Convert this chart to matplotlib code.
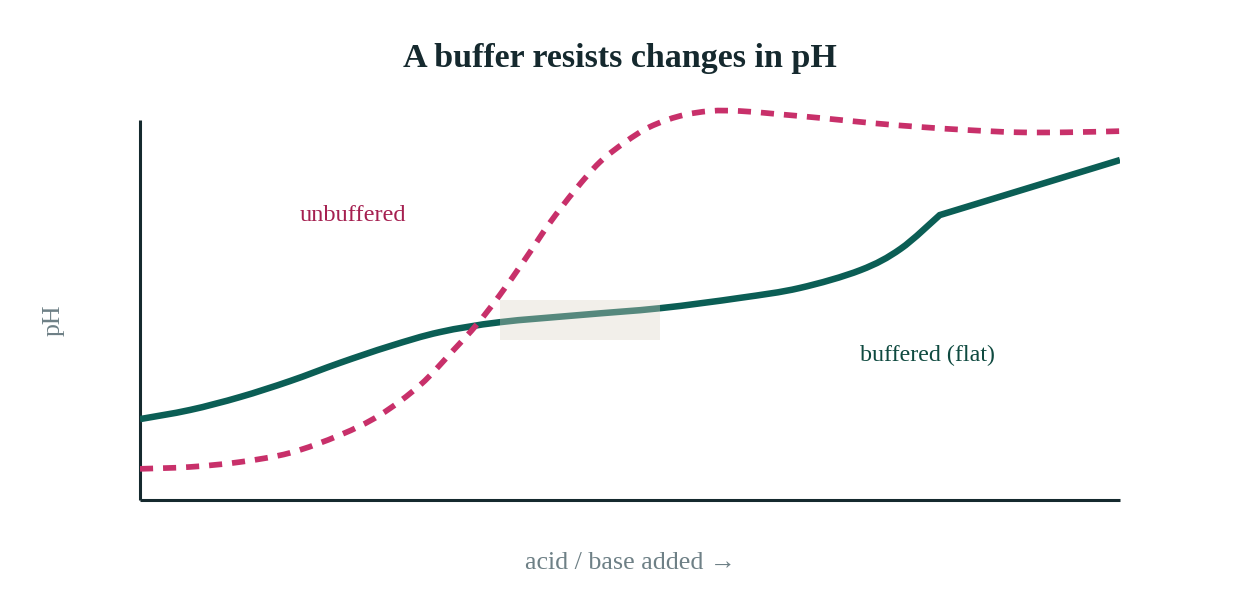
import matplotlib
matplotlib.use("Agg")
import matplotlib.pyplot as plt
import numpy as np
from matplotlib.patches import Rectangle, PathPatch
from matplotlib.path import Path

# amount of acid/base added (arbitrary units) vs pH (arbitrary units)
buf_x = [0, 0.51, 1.02, 1.53, 2.04, 2.55, 3.06, 3.67, 4.49, 5.31, 6.12,
         6.73, 7.35, 7.76, 8.16, 10.0]
buf_y = [2.13, 2.37, 2.71, 3.13, 3.61, 4.05, 4.42, 4.68, 4.87, 5.05, 5.32,
         5.58, 6.05, 6.61, 7.50, 8.95]
BUF_KINK = 14  # buffer exhausted here, straight rise after

unbuf_x = [0, 0.51, 1.02, 1.53, 2.04, 2.45, 2.86, 3.19, 3.44, 3.67, 3.93,
           4.18, 4.44, 4.69, 4.95, 5.20, 5.51, 5.82, 6.12, 6.50, 6.97,
           7.48, 7.96, 8.44, 8.95, 9.46, 10.0]
unbuf_y = [0.82, 0.87, 1.00, 1.24, 1.71, 2.24, 3.03, 3.92, 4.63, 5.39, 6.34,
           7.29, 8.16, 8.89, 9.42, 9.82, 10.11, 10.24, 10.24, 10.16, 10.05,
           9.92, 9.82, 9.74, 9.68, 9.68, 9.71]

# flat (buffer) region highlighted
flat_x = (3.67, 5.31)
flat_y = (4.21, 5.26)

TEAL = "#0b5e55"
MAGENTA = "#c8306a"
INK = "#15292e"
GREY = "#6e8086"
SERIF = ["Liberation Serif", "DejaVu Serif"]


def smooth_path(xs, ys, straight_from=None):
    """Bezier path through the points (catmull-rom style tangents)."""
    pts = np.column_stack([xs, ys])
    n = len(pts) if straight_from is None else straight_from + 1
    verts, codes = [pts[0]], [Path.MOVETO]
    for i in range(n - 1):
        p0 = pts[max(i - 1, 0)]
        p1, p2 = pts[i], pts[i + 1]
        p3 = pts[min(i + 2, n - 1)]
        verts += [p1 + (p2 - p0) / 6, p2 - (p3 - p1) / 6, p2]
        codes += [Path.CURVE4] * 3
    if straight_from is not None:
        for p in pts[n:]:
            verts.append(p)
            codes.append(Path.LINETO)
    return Path(verts, codes)


fig = plt.figure(figsize=(12.4, 6), dpi=100)
ax = fig.add_axes([140 / 1240, 100 / 600, 980 / 1240, 400 / 600])

ax.add_patch(PathPatch(smooth_path(buf_x, buf_y, BUF_KINK), fill=False,
                       edgecolor=TEAL, lw=4.7, capstyle="butt",
                       joinstyle="miter", zorder=3))
ax.add_patch(PathPatch(smooth_path(unbuf_x, unbuf_y), fill=False,
                       edgecolor=MAGENTA, lw=4.1, linestyle=(0, (2.3, 1.75)),
                       capstyle="butt", zorder=4))
ax.add_patch(Rectangle((flat_x[0], flat_y[0]), flat_x[1] - flat_x[0],
                       flat_y[1] - flat_y[0], facecolor="#ddd5c5",
                       alpha=0.36, lw=0, zorder=3.5))

ax.set_xlim(0, 10)
ax.set_ylim(0, 10.53)
for s in ("top", "right"):
    ax.spines[s].set_visible(False)
for s in ("left", "bottom"):
    ax.spines[s].set_linewidth(2.2)
    ax.spines[s].set_color(INK)
    ax.spines[s].set_capstyle("butt")
ax.spines["left"].set_bounds(0, 10)
ax.set_xticks([])
ax.set_yticks([])

ax.text(1.63, 7.5, "unbuffered", color="#a52050", fontsize=17.5,
        family=SERIF, ha="left", va="center")
ax.text(7.35, 3.8, "buffered (flat)", color="#0f4a40", fontsize=17.3,
        family=SERIF, ha="left", va="center")

fig.text(0.5, 1 - 59 / 600, "A buffer resists changes in pH", color=INK,
         fontsize=24.5, fontweight="bold", family=SERIF, ha="center", va="center")
fig.text(630 / 1240, 1 - 563 / 600, "acid / base added \u2192", color=GREY,
         fontsize=18.7, family=SERIF, ha="center", va="center")
fig.text(54 / 1240, 1 - 320 / 600, "pH", color=GREY, fontsize=18.7,
         family=SERIF, rotation=90, ha="center", va="center")

fig.savefig("out.png", dpi=100)
